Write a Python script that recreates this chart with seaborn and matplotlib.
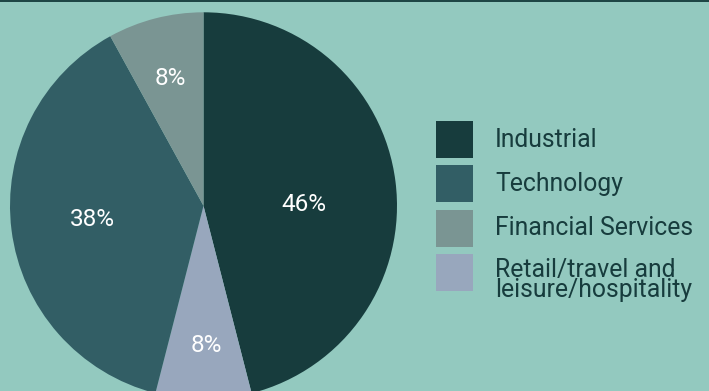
import numpy as np
import matplotlib
matplotlib.use("Agg")
import matplotlib.pyplot as plt
from matplotlib.patches import Rectangle
import seaborn as sns

# Sector allocation
categories = ["Industrial", "Technology", "Financial Services",
              "Retail/travel and\nleisure/hospitality"]
shares = [46, 38, 8, 8]
colors = ["#173C3D", "#325E65", "#7A9593", "#98A7BD"]
# clockwise order of the wedges starting at 12 o'clock
pie_order = [0, 3, 1, 2]

# label placement per category: radial distance and angular nudge (deg)
label_radius = [0.52, 0.58, 0.68, 0.72]
label_nudge = [-6.3, 0.0, 0.0, 1.0]

BG = "#93C9BF"
INK = "#173C3D"

sns.set_theme(style="white")
plt.rcParams["font.family"] = ["Roboto", "DejaVu Sans"]

fig = plt.figure(figsize=(7.09, 3.91), dpi=100, facecolor=BG)
W, H = 709, 391
cx, cy, r = 203.5, 205.8, 193.5
ax = fig.add_axes([(cx - r) / W, (H - cy - r) / H, 2 * r / W, 2 * r / H])
ax.set_facecolor(BG)

vals = [shares[i] for i in pie_order]
cols = [colors[i] for i in pie_order]
wedges, _ = ax.pie(vals, colors=cols, startangle=90, counterclock=False,
                   radius=1.0, wedgeprops=dict(linewidth=0, edgecolor="none"))
ax.set_xlim(-1, 1)
ax.set_ylim(-1, 1)
ax.set_aspect("equal")
ax.axis("off")

for w, idx in zip(wedges, pie_order):
    mid = np.deg2rad((w.theta1 + w.theta2) / 2 + label_nudge[idx])
    rr = label_radius[idx]
    ax.text(rr * np.cos(mid), rr * np.sin(mid), f"{shares[idx]}%",
            ha="center", va="center", color="white", fontsize=17.5)

# legend: swatch and label per category (baseline of the last line)
sw_x, sw_size = 436, 37
sw_top = [121, 165, 210, 254]
txt_x = 495
txt_base = [147, 191, 235, 297]
for i, cat in enumerate(categories):
    fig.add_artist(Rectangle((sw_x / W, 1 - (sw_top[i] + sw_size) / H),
                             sw_size / W, sw_size / H,
                             transform=fig.transFigure,
                             facecolor=colors[i], lw=0))
    fig.text(txt_x / W, 1 - txt_base[i] / H, cat,
             ha="left", va="baseline", color=INK, fontsize=17.8,
             linespacing=0.78)

# thin dark rule along the top edge
fig.add_artist(Rectangle((0, 1 - 2 / H), 1, 2 / H, transform=fig.transFigure,
                         color="#1E4645", lw=0))

fig.savefig("out.png", dpi=100, facecolor=BG)
